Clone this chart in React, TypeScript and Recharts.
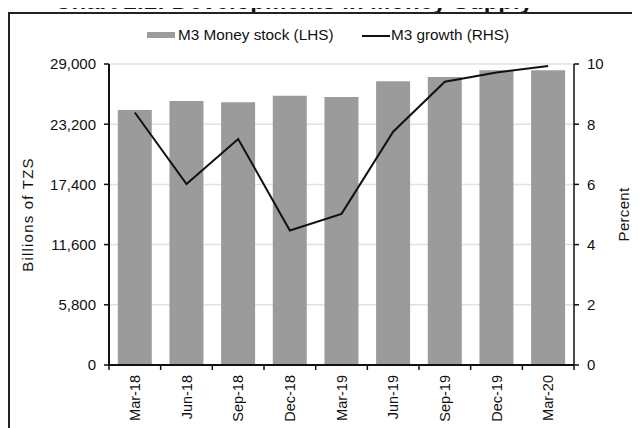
import React from "react";
import {
  Bar,
  CartesianGrid,
  ComposedChart,
  Line,
  XAxis,
  YAxis,
} from "recharts";

const quarters = ["Mar-18", "Jun-18", "Sep-18", "Dec-18", "Mar-19", "Jun-19", "Sep-19", "Dec-19", "Mar-20"];
const moneyStock = [24570, 25430, 25310, 25950, 25820, 27330, 27750, 28390, 28400];
const growth = [8.39, 6.01, 7.51, 4.47, 5.02, 7.75, 9.41, 9.72, 9.93];
const leftTicks = [0, 5800, 11600, 17400, 23200, 29000];
const rightTicks = [0, 2, 4, 6, 8, 10];

const data = quarters.map((q, i) => ({ q, m3: moneyStock[i], growth: growth[i] }));

const FONT = '"Liberation Sans", Arial, sans-serif';
const W = 640;
const H = 428;
const M = { top: 64, right: 0, bottom: 0, left: 0 };
const LEFT_W = 109;
const RIGHT_W = 66;
const X_H = 63;
const PLOT_W = W - LEFT_W - RIGHT_W;
const BAND = PLOT_W / quarters.length;

function QuarterTick(props: any) {
  const { x, y, payload, index } = props;
  return (
    <g>
      <line x1={x - BAND / 2} x2={x - BAND / 2} y1={y} y2={y + 5} stroke="#111" strokeWidth={1.5} />
      {index === quarters.length - 1 && (
        <line x1={x + BAND / 2} x2={x + BAND / 2} y1={y} y2={y + 5} stroke="#111" strokeWidth={1.5} />
      )}
      <text
        x={0}
        y={0}
        transform={`translate(${x},${y + 10}) rotate(-90)`}
        textAnchor="end"
        dominantBaseline="central"
        fontSize={14.5}
        fontFamily={FONT}
        fill="#111"
      >
        {payload.value}
      </text>
    </g>
  );
}

function AxisTitle({ viewBox, text, dx, spacing }: any) {
  const cx = viewBox.x + dx;
  const cy = viewBox.y + viewBox.height / 2;
  return (
    <text
      x={0}
      y={0}
      transform={`translate(${cx},${cy}) rotate(-90)`}
      textAnchor="middle"
      dominantBaseline="central"
      fontSize={15}
      letterSpacing={spacing}
      fontFamily={FONT}
      fill="#111"
    >
      {text}
    </text>
  );
}

export default function App() {
  return (
    <div style={{ position: "relative", width: W, height: H, margin: "-8px 0 0 -8px", overflow: "hidden", background: "#fff" }}>
      <svg width={W} height={H} style={{ position: "absolute", left: 0, top: 0 }}>
        <text x={533} y={9} textAnchor="end" fontSize={24} fontWeight="bold" fontFamily={FONT} fill="#111">
          Chart 2.1: Developments in Money Supply
        </text>
        <rect x={0} y={12} width={W} height={2} fill="#fff" />
        <rect x={9} y={13} width={700} height={500} fill="none" stroke="#222" strokeWidth={2} />
      </svg>

      <div
        style={{
          position: "absolute",
          top: 26,
          left: 0,
          width: W,
          height: 18,
          fontFamily: FONT,
          fontSize: 15.3,
          color: "#111",
        }}
      >
        <span style={{ position: "absolute", left: 147, top: 6, width: 28, height: 6, background: "#9b9b9b" }} />
        <span style={{ position: "absolute", left: 178, top: 0, whiteSpace: "nowrap" }}>M3 Money stock (LHS)</span>
        <span style={{ position: "absolute", left: 362, top: 9, width: 28, height: 2, background: "#111" }} />
        <span style={{ position: "absolute", left: 391, top: 0, whiteSpace: "nowrap" }}>M3 growth (RHS)</span>
      </div>

      <div style={{ position: "absolute", left: 0, top: 0 }}>
        <ComposedChart width={W} height={H} data={data} margin={M} barCategoryGap="17%">
          <CartesianGrid yAxisId="left" vertical={false} stroke="#e2e2e2" strokeWidth={1.5} />
          <XAxis
            dataKey="q"
            height={X_H}
            interval={0}
            tickSize={0}
            tickMargin={0}
            tickLine={false}
            tick={<QuarterTick />}
            axisLine={{ stroke: "#111", strokeWidth: 2 }}
          />
          <YAxis
            yAxisId="left"
            width={LEFT_W}
            domain={[0, 29000]}
            ticks={leftTicks}
            tickSize={5}
            tickMargin={8}
            tickFormatter={(v: number) => v.toLocaleString("en-US")}
            tick={{ fontSize: 15, fontFamily: FONT, fill: "#111" }}
            tickLine={{ stroke: "#111", strokeWidth: 1.5 }}
            axisLine={{ stroke: "#111", strokeWidth: 2 }}
            label={{ content: (p: any) => <AxisTitle {...p} text="Billions of TZS" dx={27} spacing={1.2} /> }}
          />
          <YAxis
            yAxisId="right"
            orientation="right"
            width={RIGHT_W}
            domain={[0, 10]}
            ticks={rightTicks}
            tickSize={5}
            tickMargin={8}
            tick={{ fontSize: 15, fontFamily: FONT, fill: "#111" }}
            tickLine={{ stroke: "#111", strokeWidth: 1.5 }}
            axisLine={{ stroke: "#111", strokeWidth: 1.5 }}
            label={{ content: (p: any) => <AxisTitle {...p} text="Percent" dx={49} spacing={0.3} /> }}
          />
          <Bar yAxisId="left" dataKey="m3" fill="#9b9b9b" isAnimationActive={false} />
          <Line
            yAxisId="right"
            dataKey="growth"
            type="linear"
            stroke="#111"
            strokeWidth={2}
            dot={false}
            activeDot={false}
            isAnimationActive={false}
          />
        </ComposedChart>
      </div>
    </div>
  );
}
